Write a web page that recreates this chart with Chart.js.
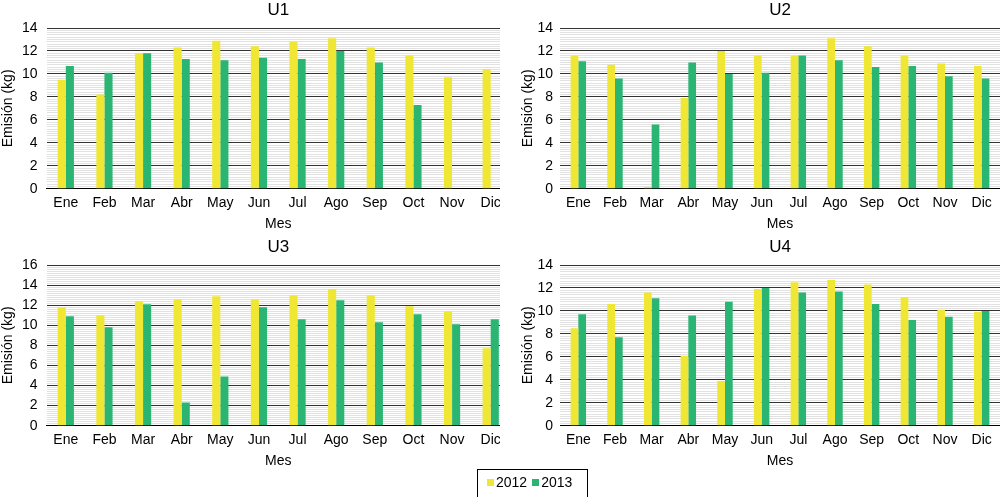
<!DOCTYPE html>
<html>
<head>
<meta charset="utf-8">
<script src="https://cdn.jsdelivr.net/npm/chart.js@4"></script>
<style>
    body { margin: 0; width: 1000px; height: 497px; overflow: hidden; background: #fff; position: relative; }
    .panel { position: absolute; overflow: hidden; }
    .leyenda {
        position: absolute; left: 477px; top: 469px; width: 111px; height: 40px;
        border: 1px solid #000; box-sizing: border-box;
        font: 14px "Liberation Sans", Arial, sans-serif; color: #000;
        padding: 4px 0 0 9px;
    }
    .leyenda .cuadro { display: inline-block; width: 7px; height: 7px; margin-right: 2px; vertical-align: 1px; }
    .leyenda .item { margin-right: 5px; }
</style>
</head>
<body>
<div class="panel" style="left:0;top:0;width:500px;height:236px"><canvas id="u1" width="510" height="236"></canvas></div>
<div class="panel" style="left:500px;top:0;width:500px;height:236px"><canvas id="u2" width="500" height="236"></canvas></div>
<div class="panel" style="left:0;top:237px;width:500px;height:236px"><canvas id="u3" width="510" height="236"></canvas></div>
<div class="panel" style="left:500px;top:237px;width:500px;height:236px"><canvas id="u4" width="500" height="236"></canvas></div>
<div class="leyenda">
    <span class="item"><span class="cuadro" style="background:#efe734"></span>2012</span><span class="item"><span class="cuadro" style="background:#2ab573"></span>2013</span>
</div>
<script>
const meses = ['Ene', 'Feb', 'Mar', 'Abr', 'May', 'Jun', 'Jul', 'Ago', 'Sep', 'Oct', 'Nov', 'Dic'];
const series = ['2012', '2013'];
const titulos = ['U1', 'U2', 'U3', 'U4'];
const maximos = [14, 14, 16, 14];

const u1_2012 = [9.5, 8.2, 11.8, 12.3, 12.9, 12.4, 12.8, 13.1, 12.3, 11.6, 9.7, 10.4];
const u1_2013 = [10.7, 10.1, 11.8, 11.3, 11.2, 11.4, 11.3, 12.0, 11.0, 7.3, null, null];
const u2_2012 = [11.6, 10.8, 0.15, 7.9, 12.0, 11.6, 11.6, 13.1, 12.4, 11.6, 10.9, 10.7];
const u2_2013 = [11.1, 9.6, 5.6, 11.0, 10.0, 10.1, 11.6, 11.2, 10.6, 10.7, 9.8, 9.6];
const u3_2012 = [11.8, 11.0, 12.4, 12.6, 12.9, 12.6, 13.0, 13.6, 13.0, 11.9, 11.4, 7.7];
const u3_2013 = [10.9, 9.8, 12.1, 2.3, 4.9, 11.8, 10.6, 12.5, 10.3, 11.1, 10.1, 10.6];
const u4_2012 = [8.5, 10.6, 11.6, 6.1, 3.9, 11.9, 12.5, 12.7, 12.3, 11.2, 10.1, 9.9];
const u4_2013 = [9.7, 7.7, 11.1, 9.6, 10.8, 12.0, 11.6, 11.7, 10.6, 9.2, 9.5, 10.0];

const fuente = '"Liberation Sans", Arial, sans-serif';
const colores = ['#efe734', '#2ab573'];

// izq: los paneles de la derecha llevan el titulo del eje un poco separado
function crearGrafico(id, titulo, maxY, datos2012, datos2013, izq) {
    const ctx = document.getElementById(id).getContext('2d');
    new Chart(ctx, {
        type: 'bar',
        data: {
            labels: meses,
            datasets: [
                { label: series[0], data: datos2012, backgroundColor: colores[0] },
                { label: series[1], data: datos2013, backgroundColor: colores[1] }
            ]
        },
        options: {
            responsive: false,
            animation: false,
            layout: { padding: { left: izq.padding, right: 0, top: 0, bottom: 0 } },
            datasets: { bar: { categoryPercentage: 0.42, barPercentage: 1 } },
            plugins: {
                legend: { display: false },
                tooltip: { enabled: false },
                title: {
                    display: true,
                    text: titulo,
                    fullSize: false,
                    color: '#000',
                    font: { family: fuente, size: 17, weight: 'normal', lineHeight: 1 },
                    padding: { top: 2, bottom: 9 }
                }
            },
            scales: {
                x: {
                    grid: { display: false, drawTicks: false },
                    border: { display: true, color: '#000', width: 1 },
                    ticks: { color: '#000', padding: 6, font: { family: fuente, size: 14 } },
                    title: {
                        display: true, text: 'Mes', color: '#000',
                        font: { family: fuente, size: 14, lineHeight: 1 },
                        padding: { top: 0, bottom: 4.5 }
                    }
                },
                y: {
                    min: 0,
                    max: maxY,
                    border: { display: false },
                    afterFit: escala => { escala.width = izq.ancho; },
                    grid: {
                        drawTicks: false,
                        color: c => (Math.round(c.tick.value * 10) % 20 === 0 ? '#333' : '#e2e2e2'),
                        lineWidth: 1
                    },
                    ticks: {
                        stepSize: 0.2,
                        autoSkip: false,
                        padding: izq.ticks,
                        color: '#000',
                        font: { family: fuente, size: 14 },
                        callback: v => (Math.round(v * 10) % 20 === 0 ? Math.round(v) : '')
                    },
                    title: {
                        display: true, text: 'Emisión (kg)', color: '#000',
                        font: { family: fuente, size: 14 },
                        padding: { top: 0, bottom: 0 }
                    }
                }
            }
        }
    });
}

crearGrafico('u1', titulos[0], maximos[0], u1_2012, u1_2013, { padding: 0, ancho: 46.5, ticks: 9 });
crearGrafico('u2', titulos[1], maximos[1], u2_2012, u2_2013, { padding: 20, ancho: 40, ticks: 7 });
crearGrafico('u3', titulos[2], maximos[2], u3_2012, u3_2013, { padding: 0, ancho: 46.5, ticks: 9 });
crearGrafico('u4', titulos[3], maximos[3], u4_2012, u4_2013, { padding: 20, ancho: 40, ticks: 7 });
</script>
</body>
</html>
